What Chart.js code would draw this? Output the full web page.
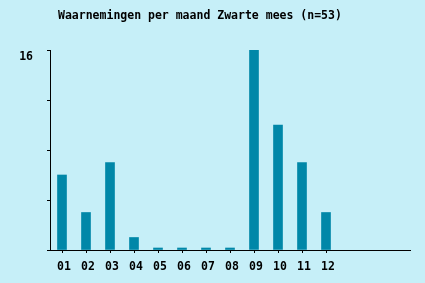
<!DOCTYPE html>
<html>
<head>
<meta charset="utf-8">
<script src="https://cdn.jsdelivr.net/npm/chart.js@4"></script>
<style>
  html, body { margin: 0; padding: 0; background: #c6eff8; }
  canvas { display: block; }
</style>
</head>
<body>
<canvas id="chMaand" width="425" height="283"></canvas>
<script>
var titel = 'Waarnemingen per maand Zwarte mees (n=53)';
var maanden = ['01', '02', '03', '04', '05', '06', '07', '08', '09', '10', '11', '12'];
var waarnemingen = [6, 3, 7, 1, 0, 0, 0, 0, 16, 10, 7, 3];
var extraSlots = ['', '', ''];
var yTicks = [16];

var mono = '"DejaVu Sans Mono", "Liberation Mono", monospace';

// title drawn left of center like the original
var titlePlugin = {
    id: 'titelTekst',
    afterDraw: function (chart) {
        var ctx = chart.ctx;
        ctx.save();
        ctx.font = 'bold 11.5px ' + mono;
        ctx.fillStyle = '#000';
        ctx.textBaseline = 'middle';
        ctx.fillText(titel, chart.chartArea.left + 8, 16);
        ctx.restore();
    }
};

new Chart(document.getElementById('chMaand'), {
    type: 'bar',
    data: {
        labels: maanden.concat(extraSlots),
        datasets: [{
            data: waarnemingen,
            backgroundColor: '#0087a8',
            borderWidth: 0,
            barThickness: 9,
            minBarLength: 2
        }]
    },
    options: {
        responsive: false,
        animation: false,
        layout: { padding: { top: 50, left: 20, right: 15, bottom: 8 } },
        plugins: {
            legend: { display: false },
            title: { display: false },
            tooltip: { enabled: false }
        },
        scales: {
            x: {
                grid: {
                    offset: false,
                    drawOnChartArea: false,
                    tickLength: 3,
                    tickColor: function (c) { return c.index < maanden.length ? '#000' : 'rgba(0,0,0,0)'; }
                },
                border: { color: '#000', width: 1 },
                ticks: {
                    color: '#000',
                    padding: 7,
                    labelOffset: 2,
                    maxRotation: 0,
                    autoSkip: false,
                    font: { family: mono, size: 11.5, weight: 'bold' }
                },
                afterFit: function (s) { s.height = 25; }
            },
            y: {
                min: 0,
                max: 16,
                grid: { drawOnChartArea: false, tickLength: 3, tickColor: '#000' },
                border: { color: '#000', width: 1 },
                ticks: {
                    stepSize: 4,
                    color: '#000',
                    padding: 14,
                    labelOffset: 7,
                    font: { family: mono, size: 11.5, weight: 'bold' },
                    callback: function (v) { return yTicks.indexOf(v) >= 0 ? String(v) : ''; }
                },
                afterFit: function (s) { s.width = 30; }
            }
        }
    },
    plugins: [titlePlugin]
});
</script>
</body>
</html>
